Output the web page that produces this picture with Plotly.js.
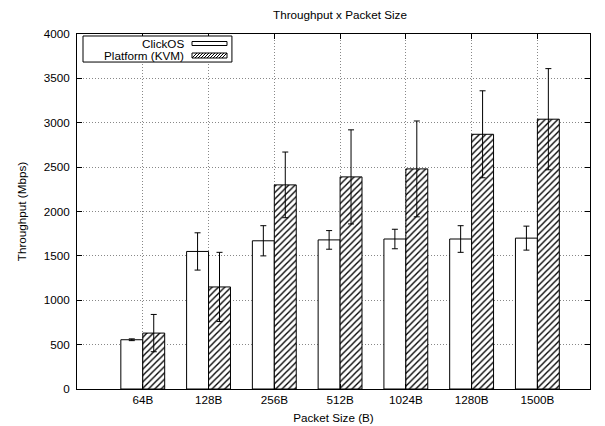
<!DOCTYPE html>
<html>
<head>
<meta charset="utf-8">
<script src="https://cdn.plot.ly/plotly-3.0.1.min.js"></script>
<style>html,body{margin:0;padding:0;background:#fff;}#chart{width:605px;height:426px;}</style>
</head>
<body>
<div id="chart"></div>
<script>
const categories = ["64B", "128B", "256B", "512B", "1024B", "1280B", "1500B"];
const clickosValues = [555, 1550, 1670, 1680, 1690, 1690, 1700];
const clickosErrors = [10, 210, 170, 105, 110, 150, 135];
const kvmValues = [630, 1150, 2300, 2390, 2480, 2870, 3040];
const kvmErrors = [210, 390, 370, 530, 540, 490, 570];
const seriesNames = ["ClickOS", "Platform (KVM)"];

const font = {family: "Liberation Sans, Arial, sans-serif", size: 11.7, color: "#000"};

const traces = [
  {
    type: "bar", x: categories, y: clickosValues, name: seriesNames[0],
    marker: {color: "#fff", line: {color: "#000", width: 1}},
    error_y: {type: "data", array: clickosErrors, visible: true, color: "#000", thickness: 1, width: 3},
    showlegend: false
  },
  {
    type: "bar", x: categories, y: kvmValues, name: seriesNames[1],
    marker: {color: "#fff", line: {color: "#000", width: 1},
             pattern: {shape: "/", fgcolor: "#000", bgcolor: "#fff", size: 4.5, solidity: 0.3}},
    error_y: {type: "data", array: kvmErrors, visible: true, color: "#000", thickness: 1, width: 3},
    showlegend: false
  }
];

// legend key: hatch path (pixel units relative to anchor)
let hatch = "";
for (let i = 0; i <= 30; i += 3) {
  hatch += "M" + i + ",-2.5L" + (i + 5) + ",2.5";
}
const sampleX = (192 - 77) / 513;
const row1 = (389 - 43.5) / 355;
const row2 = (389 - 55.5) / 355;

const layout = {
  width: 605, height: 426,
  margin: {l: 77, r: 15, t: 34, b: 37},
  paper_bgcolor: "#fff", plot_bgcolor: "#fff",
  font: font,
  title: {text: "Throughput x Packet Size", font: font, x: 0.562, xanchor: "center", y: 0.965, yanchor: "middle"},
  barmode: "group", bargap: 0.333, bargroupgap: 0,
  xaxis: {
    type: "category", categoryorder: "array", categoryarray: categories,
    range: [-1, 6.8],
    showline: true, linecolor: "#000", linewidth: 1, mirror: "ticks",
    ticks: "inside", ticklen: 5, tickcolor: "#000",
    showgrid: true, gridcolor: "#888", griddash: "1px,2px", gridwidth: 1,
    tickfont: font,
    title: {text: "Packet Size (B)", font: font, standoff: 8},
    zeroline: false
  },
  yaxis: {
    range: [0, 4000], dtick: 500, tickformat: "d",
    showline: true, linecolor: "#000", linewidth: 1, mirror: "ticks",
    ticks: "inside", ticklen: 5, tickcolor: "#000",
    showgrid: true, gridcolor: "#888", griddash: "1px,2px", gridwidth: 1,
    tickfont: font, ticklabelstandoff: 4,
    title: {text: "Throughput (Mbps)", font: font, standoff: 14},
    zeroline: false
  },
  showlegend: false,
  shapes: [
    {type: "rect", xref: "paper", yref: "paper", x0: 0.0117, x1: 0.302, y0: 0.921, y1: 0.9944,
     line: {color: "#000", width: 1}, fillcolor: "#fff", layer: "above"},
    {type: "rect", xref: "paper", yref: "paper", xsizemode: "pixel", ysizemode: "pixel",
     xanchor: sampleX, yanchor: row1, x0: 0, x1: 35, y0: -2, y1: 2,
     line: {color: "#000", width: 1}, fillcolor: "#fff", layer: "above"},
    {type: "rect", xref: "paper", yref: "paper", xsizemode: "pixel", ysizemode: "pixel",
     xanchor: sampleX, yanchor: row2, x0: 0, x1: 35, y0: -2.5, y1: 2.5,
     line: {color: "#000", width: 1}, fillcolor: "#fff", layer: "above"},
    {type: "path", xref: "paper", yref: "paper", xsizemode: "pixel", ysizemode: "pixel",
     xanchor: sampleX, yanchor: row2, path: hatch,
     line: {color: "#000", width: 1}, layer: "above"}
  ],
  annotations: [
    {text: seriesNames[0], xref: "paper", yref: "paper", x: (186 - 77) / 513, y: row1, xanchor: "right", yanchor: "middle", showarrow: false, font: font},
    {text: seriesNames[1], xref: "paper", yref: "paper", x: (186 - 77) / 513, y: row2, xanchor: "right", yanchor: "middle", showarrow: false, font: font}
  ]
};

Plotly.newPlot("chart", traces, layout, {displayModeBar: false, staticPlot: true});
</script>
</body>
</html>
